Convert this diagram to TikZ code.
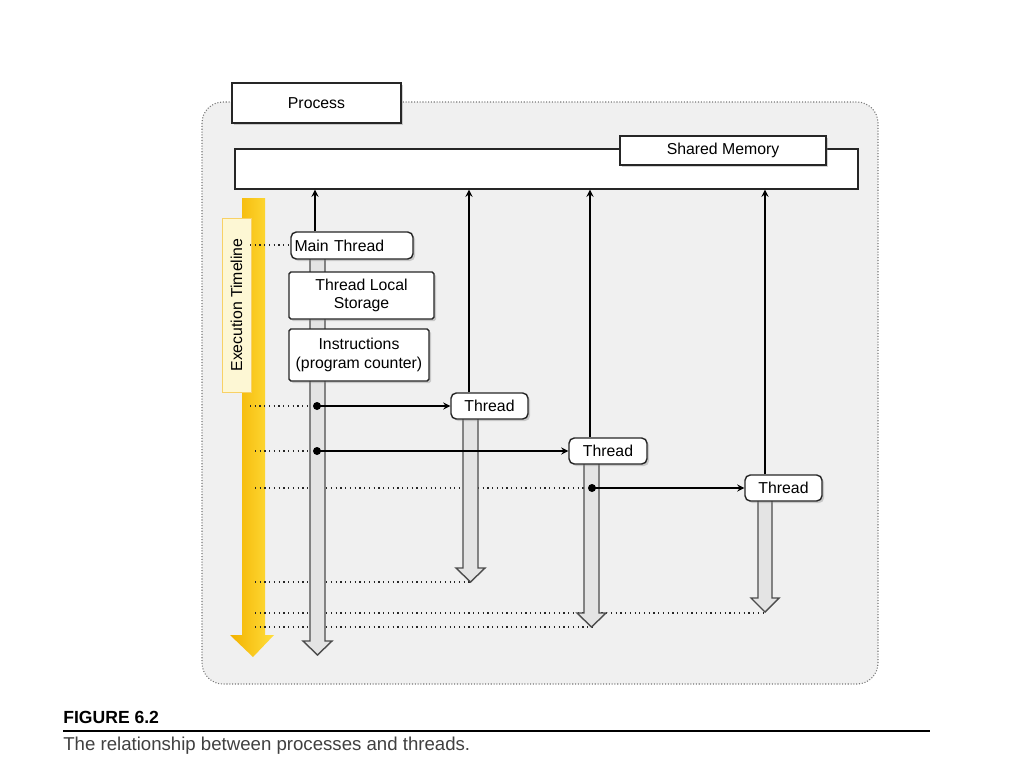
\documentclass[tikz,border=0pt]{standalone}
\usepackage{fontspec}
\setmainfont{Liberation Sans}
\usepackage{tikz}
\usetikzlibrary{arrows,shadows}
\definecolor{panelgray}{RGB}{240, 240, 240}
\definecolor{tubegray}{RGB}{228, 228, 228}
\definecolor{amber}{RGB}{243, 178, 0}
\definecolor{lemon}{RGB}{255, 222, 60}
\definecolor{paleyellow}{RGB}{253, 247, 212}

% hollow down arrow: left x, right x, top y, tip y
\newcommand{\tubearrow}[4]{%
    \filldraw[tube] (#1,#3) -- (#1,#4-14) -- (#1-7,#4-14) -- ({(#1+#2)/2},#4)
        -- (#2+7,#4-14) -- (#2,#4-14) -- (#2,#3);}

\begin{document}
\begin{tikzpicture}[x=0.02cm, y=-0.02cm, >=stealth,
    txt/.style={font=\fontsize{9}{10.5}\selectfont},
    box/.style={txt, draw=black!85, line width=0.8pt, fill=white, inner sep=0pt,
                drop shadow={opacity=0.35, shadow xshift=1.2pt, shadow yshift=-1.2pt}},
    rbox/.style={box, rounded corners=3pt},
    tube/.style={draw=black!70, line width=0.8pt, fill=tubegray},
    timeline/.style={dotted, black!85, line width=0.7pt},
    link/.style={->, black, line width=0.8pt}]
    % Frame
    \useasboundingbox[fill=white] (0,0) rectangle (1024,768);
    \draw[panelgray!50!black, densely dotted, line width=0.6pt, fill=panelgray, rounded corners=12pt]
        (202,102) rectangle (878,684);
    % Execution timeline
    \shade[left color=amber, right color=lemon]
        (242,198) -- (242,635) -- (230,635) -- (253,657) -- (274,635) -- (265,635) -- (265,198) -- cycle;
    \node[draw=amber!60, fill=paleyellow, minimum width=0.58cm, minimum height=3.48cm,
          inner sep=0pt, txt] (xline) at (236.5,305) {};
    \node[txt, rotate=90] at (xline.center) {Execution Timeline};
    % Dotted time marks
    \draw[timeline] (250,245) -- (291,245);
    \draw[timeline] (250,406) -- (310,406);
    \draw[timeline] (255,451) -- (310,451);
    \draw[timeline] (255,488) -- (588,488);
    \draw[timeline] (255,582) -- (470,582);
    \draw[timeline] (255,613) -- (765,613);
    \draw[timeline] (255,627) -- (592,627);
    % Thread lifetimes
    \tubearrow{310}{325}{259}{655}
    \tubearrow{463}{478}{419}{582}
    \tubearrow{584}{599}{464}{627}
    \tubearrow{758}{772}{501}{612}
    % Process and shared memory
    \node[box, minimum width=3.38cm, minimum height=0.8cm] (proc) at (316.5,103) {Process};
    \node[draw=black!85, line width=0.8pt, fill=white, minimum width=12.46cm, minimum height=0.8cm,
          inner sep=0pt] (mem) at (546.5,169) {};
    \node[box, minimum width=4.12cm, minimum height=0.58cm] (memlabel) at (723,150.5) {Shared Memory};
    % Main thread
    \node[rbox, minimum width=2.44cm, minimum height=0.54cm, text width=2.3cm, align=left]
        (main) at (352,245.5) {Main Thread};
    \node[box, rounded corners=1pt, minimum width=2.9cm, minimum height=0.94cm, align=center]
        (tls) at (361.5,295.5) {Thread Local\\Storage};
    \node[box, rounded corners=1pt, minimum width=2.8cm, minimum height=1.04cm, align=center]
        (instr) at (359,355) {Instructions\\(program counter)};
    % Spawned threads
    \node[rbox, minimum width=1.54cm, minimum height=0.52cm] (thrA) at (489.5,406) {Thread};
    \node[rbox, minimum width=1.56cm, minimum height=0.52cm] (thrB) at (608,451)   {Thread};
    \node[rbox, minimum width=1.54cm, minimum height=0.52cm] (thrC) at (783.5,488) {Thread};
    % Spawn points
    \coordinate (spawnA) at (317,406);
    \coordinate (spawnB) at (317,451);
    \coordinate (spawnC) at (592,488);
    \fill (spawnA) circle (4); \fill (spawnB) circle (4); \fill (spawnC) circle (4);
    \draw[link] (spawnA) -- (thrA.west);
    \draw[link] (spawnB) -- (thrB.west);
    \draw[link] (spawnC) -- (thrC.west);
    % Access to shared memory
    \draw[link] (main.north -| 315,0) -- (mem.south -| 315,0);
    \draw[link] (thrA.north -| 469,0) -- (mem.south -| 469,0);
    \draw[link] (thrB.north -| 590,0) -- (mem.south -| 590,0);
    \draw[link] (thrC.north -| 765,0) -- (mem.south -| 765,0);
    % Caption
    \node[anchor=west, inner sep=0pt, font=\fontsize{10}{12}\selectfont\bfseries] (fig) at (63,717) {FIGURE 6.2};
    \draw[line width=0.8pt] (63,731) -- (930,731);
    \node[anchor=west, inner sep=0pt, font=\fontsize{10.6}{12}\selectfont, black!75] (cap) at (63,746)
        {The relationship between processes and threads.};
\end{tikzpicture}
\end{document}
